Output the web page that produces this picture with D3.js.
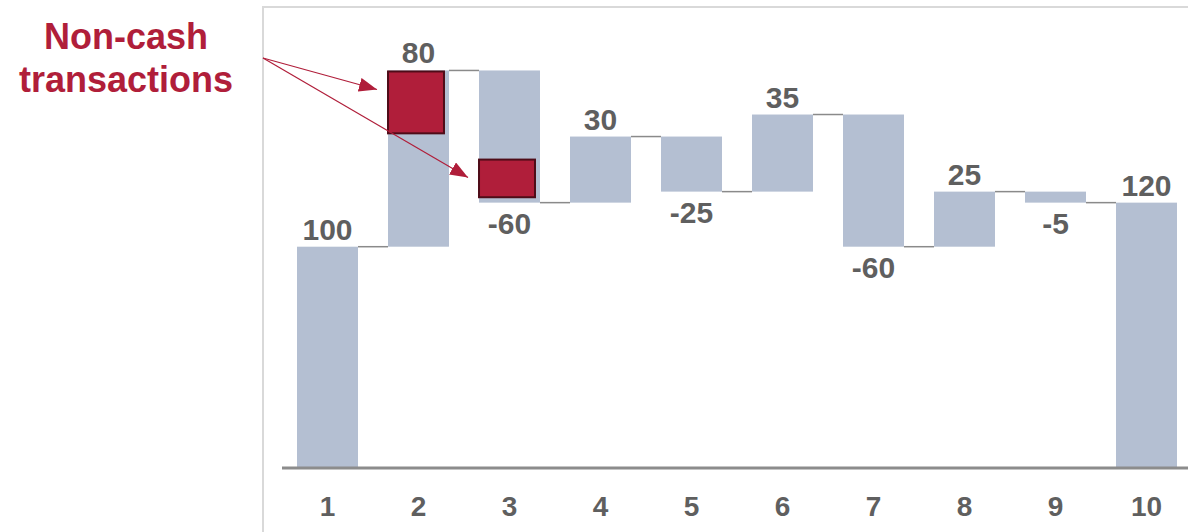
<!DOCTYPE html>
<html>
<head>
<meta charset="utf-8">
<script src="https://cdn.jsdelivr.net/npm/d3@7"></script>
<style>
  html, body { margin: 0; padding: 0; background: #fff; }
  svg { display: block; font-family: "Liberation Sans", Arial, sans-serif; }
</style>
</head>
<body>
<svg id="chart" width="1188" height="532"></svg>
<script>
// data
const categories = ['1', '2', '3', '4', '5', '6', '7', '8', '9', '10'];
const deltas = [100, 80, -60, 30, -25, 35, -60, 25, -5, 120];
const isTotal = [true, false, false, false, false, false, false, false, false, true];

// non-cash parts (highlighted)
const nonCashCats = ['2', '3'];
const nonCashFrom = [151, 122];
const nonCashTo = [180, 140];
const noteLines = ['Non-cash', 'transactions'];

const svg = d3.select('#chart');
const W = 1188, H = 532;

const barColor = '#b4bfd2';
const labelColor = '#5f5f5f';
const red = '#b01e3a';

// build the waterfall steps
let run = 0;
const steps = categories.map((c, i) => {
    let start, end;
    if (isTotal[i]) { start = 0; end = deltas[i]; }
    else { start = run; end = run + deltas[i]; }
    run = end;
    return { cat: c, value: deltas[i], start, end, total: isTotal[i] };
});

const x = d3.scaleBand().domain(categories).range([282, 1192])
    .paddingInner(0.33).paddingOuter(0.165);
const y = d3.scaleLinear().domain([0, 200]).range([467, 26.4]);

// frame
svg.append('path')
    .attr('d', `M263,${H + 2}V7H${W + 2}`)
    .attr('fill', 'none').attr('stroke', '#d9d9d9').attr('stroke-width', 2);

// bars
svg.selectAll('.bar').data(steps).enter().append('rect')
    .attr('class', 'bar')
    .attr('x', d => x(d.cat))
    .attr('width', x.bandwidth())
    .attr('y', d => y(Math.max(d.start, d.end)))
    .attr('height', d => Math.abs(y(d.start) - y(d.end)))
    .attr('fill', barColor);

// connectors
svg.selectAll('.conn').data(steps.slice(0, -1)).enter().append('line')
    .attr('class', 'conn')
    .attr('x1', d => x(d.cat) + x.bandwidth())
    .attr('x2', (d, i) => x(steps[i + 1].cat))
    .attr('y1', d => y(d.end)).attr('y2', d => y(d.end))
    .attr('stroke', '#8a8a8a').attr('stroke-width', 1.5);

// baseline
svg.append('line')
    .attr('x1', 282).attr('x2', W)
    .attr('y1', y(0) + 1).attr('y2', y(0) + 1)
    .attr('stroke', '#8c8c8c').attr('stroke-width', 3);

// x axis labels
const xAxis = d3.axisBottom(x).tickSize(0).tickPadding(0);
const gx = svg.append('g').attr('transform', `translate(0,${y(0) + 49})`).call(xAxis);
gx.select('.domain').remove();
gx.selectAll('text')
    .attr('dy', 0)
    .attr('font-family', '"Liberation Sans", Arial, sans-serif')
    .attr('font-size', 28).attr('font-weight', 'bold')
    .attr('fill', labelColor);

// value labels
svg.selectAll('.val').data(steps).enter().append('text')
    .attr('class', 'val')
    .attr('x', d => x(d.cat) + x.bandwidth() / 2)
    .attr('y', d => d.value >= 0 ? y(Math.max(d.start, d.end)) - 7 : y(Math.min(d.start, d.end)) + 31)
    .attr('text-anchor', 'middle')
    .attr('font-size', 30).attr('font-weight', 'bold')
    .attr('fill', labelColor)
    .text(d => d.value);

// non-cash boxes
const boxes = nonCashCats.map((c, i) => ({
    cat: c,
    x0: x(c) - 1,
    top: y(nonCashTo[i]),
    bottom: y(nonCashFrom[i])
}));
svg.selectAll('.nc').data(boxes).enter().append('rect')
    .attr('class', 'nc')
    .attr('x', d => d.x0 + 1)
    .attr('y', d => d.top + 1)
    .attr('width', x.bandwidth() - 5)
    .attr('height', d => d.bottom - d.top - 2)
    .attr('fill', red).attr('stroke', '#4e0c18').attr('stroke-width', 2);

// arrows
svg.append('defs').append('marker')
    .attr('id', 'head')
    .attr('markerUnits', 'userSpaceOnUse')
    .attr('viewBox', '0 0 18 14')
    .attr('markerWidth', 18).attr('markerHeight', 14)
    .attr('refX', 18).attr('refY', 7)
    .attr('orient', 'auto')
    .append('path').attr('d', 'M0,0L18,7L0,14Z').attr('fill', red);

const origin = [263, 58];
svg.selectAll('.arrow').data(boxes).enter().append('line')
    .attr('class', 'arrow')
    .attr('x1', origin[0]).attr('y1', origin[1])
    .attr('x2', d => d.x0 - 10).attr('y2', d => d.top + 19)
    .attr('stroke', red).attr('stroke-width', 1.2)
    .attr('marker-end', 'url(#head)');

// annotation text
svg.append('text')
    .attr('x', 126).attr('y', 49)
    .attr('text-anchor', 'middle')
    .attr('font-size', 36).attr('font-weight', 'bold')
    .attr('fill', red)
    .selectAll('tspan').data(noteLines).enter().append('tspan')
    .attr('x', 126).attr('dy', (d, i) => i === 0 ? 0 : 43)
    .text(d => d);
</script>
</body>
</html>
